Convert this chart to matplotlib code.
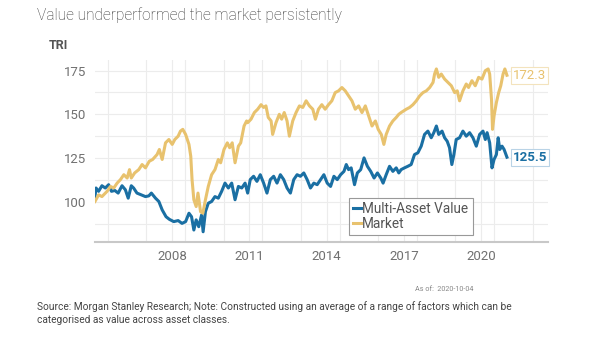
import matplotlib.pyplot as plt
from matplotlib.ticker import MultipleLocator

plt.rcParams['font.family'] = ['Roboto', 'DejaVu Sans']

# decimal years and TRI levels
market_t = [2005.0, 2005.14, 2005.27, 2005.47, 2005.6, 2005.73, 2005.86, 2005.99, 2006.12,
            2006.25, 2006.34, 2006.41, 2006.54, 2006.7, 2006.83, 2006.96, 2007.11, 2007.24,
            2007.41, 2007.5, 2007.61, 2007.74, 2007.87, 2008.0, 2008.1, 2008.23, 2008.32,
            2008.41, 2008.52, 2008.65, 2008.72, 2008.77, 2008.84, 2008.93, 2009.0, 2009.1,
            2009.19, 2009.29, 2009.4, 2009.53, 2009.66, 2009.79, 2009.88, 2010.01, 2010.14,
            2010.23, 2010.33, 2010.44, 2010.57, 2010.66, 2010.79, 2010.89,
            2010.93, 2011.06, 2011.19, 2011.32, 2011.45, 2011.55, 2011.64, 2011.73, 2011.84,
            2011.9, 2012.03, 2012.16, 2012.25, 2012.35, 2012.46, 2012.55, 2012.68, 2012.81,
            2012.94, 2013.07, 2013.2, 2013.33, 2013.46, 2013.56, 2013.68, 2013.81, 2013.94,
            2014.07, 2014.2, 2014.33, 2014.46, 2014.59, 2014.72, 2014.85, 2014.98, 2015.11,
            2015.24, 2015.37, 2015.5, 2015.63, 2015.76, 2015.89, 2016.0, 2016.12, 2016.22,
            2016.31, 2016.44, 2016.57, 2016.7, 2016.8,
            2016.89, 2017.09, 2017.22, 2017.35, 2017.48, 2017.61, 2017.74, 2017.87, 2018.0,
            2018.13, 2018.19, 2018.26, 2018.35, 2018.45, 2018.58, 2018.71, 2018.84, 2018.97,
            2019.07, 2019.16, 2019.29, 2019.42, 2019.51, 2019.64, 2019.77, 2019.9, 2020.03,
            2020.16, 2020.27, 2020.33, 2020.4, 2020.44, 2020.5, 2020.59, 2020.68, 2020.76,
            2020.85, 2020.92, 2021.0]
market_v = [100.2, 104, 103, 106, 108.8, 107.9, 110.7, 112.7, 115.5,
            113.6, 118.4, 113.6, 116.5, 118.4, 121.3, 119.4, 123.2, 124.2,
            127, 129.9, 124.2, 133.7, 135.6, 132.8, 135.6, 137.5, 140.4,
            141.4, 138.5, 132.8, 126, 112.7, 101.2, 97.3, 105, 94.4,
            93.5, 101.2, 108.8, 115.5, 118.4, 124.2, 122.3, 129.9, 133.7,
            130.9, 133.7, 122.3, 131.8, 133.7, 143.3, 146.2,
            145.2, 147.2, 151, 152.9, 155.5, 153.9, 154.8, 148.2, 146.2,
            138.5, 145.2, 150, 147.2, 151, 146.2, 137.5, 146.2, 151,
            154.8, 153.9, 157.7, 154.8, 152.9, 147.2, 152.9, 155.5, 152.9,
            155.5, 157.7, 162.4, 163.4, 165.3, 163.4, 160.5, 157.7, 152.9,
            154.8, 151, 154.8, 149.1, 143.3, 146.2, 141.4, 138.5, 132.8,
            138.5, 143.3, 146.2, 148.2, 150,
            151, 152.9, 153.9, 155.5, 157.7, 160.5, 162.4, 163.4, 165.3,
            168.2, 173, 175.9, 171.1, 173, 170.1, 168.2, 166.3, 162.4,
            163.4, 157.7, 163.4, 167.3, 165.3, 169.2, 166.3, 171.1, 170.1,
            174.9, 175.9, 173, 158.6, 141.4, 149.1, 156.7, 162.4, 166.3,
            173, 175.9, 172.3]

value_t = [2005.0, 2005.04, 2005.14, 2005.27, 2005.4, 2005.53, 2005.64, 2005.77, 2005.9,
           2006.05, 2006.18, 2006.29, 2006.41, 2006.5, 2006.63, 2006.8, 2006.96, 2007.09,
           2007.19, 2007.35, 2007.48, 2007.61, 2007.76, 2007.89, 2008.06, 2008.23, 2008.38,
           2008.52, 2008.65, 2008.75, 2008.84, 2008.93, 2009.03, 2009.14, 2009.2, 2009.29,
           2009.4, 2009.53, 2009.66, 2009.79, 2009.92, 2010.05, 2010.18, 2010.31, 2010.44,
           2010.57, 2010.7, 2010.83,
           2010.93, 2011.03, 2011.16, 2011.29, 2011.42, 2011.55, 2011.68, 2011.81, 2011.94,
           2012.07, 2012.2, 2012.33, 2012.46, 2012.59, 2012.72, 2012.85, 2012.98, 2013.11,
           2013.24, 2013.37, 2013.5, 2013.63, 2013.76, 2013.89, 2014.02, 2014.15, 2014.28,
           2014.41, 2014.54, 2014.67, 2014.76, 2014.85, 2014.95, 2015.08, 2015.19, 2015.32,
           2015.45, 2015.58, 2015.71, 2015.84, 2015.97, 2016.1, 2016.19, 2016.31, 2016.44,
           2016.57, 2016.7, 2016.8,
           2016.89, 2017.02, 2017.15, 2017.28, 2017.41, 2017.54, 2017.67, 2017.8, 2017.93,
           2018.06, 2018.16, 2018.26, 2018.35, 2018.48, 2018.58, 2018.68, 2018.77, 2018.86,
           2018.94, 2019.03, 2019.16, 2019.29, 2019.42, 2019.55, 2019.68, 2019.81, 2019.94,
           2020.07, 2020.16, 2020.23, 2020.33, 2020.42, 2020.5, 2020.59, 2020.66, 2020.72,
           2020.81, 2020.89, 2021.0]
value_v = [103, 107.9, 106, 109.2, 107.9, 109.8, 106, 106.5, 105,
           109.2, 106.9, 102.1, 109.2, 107.9, 105, 104, 103, 103.4,
           105, 102.1, 100.2, 95.4, 91.5, 90, 88.7, 89.3, 87.7,
           88.7, 93.5, 91.5, 83.9, 89.7, 85.8, 92.5, 82.9, 94.4,
           99.2, 100.2, 103, 102.1, 106, 110.7, 107.9, 110.7, 101.2,
           108.8, 107.9, 110.7,
           105, 112.7, 114.6, 111.7, 115.5, 110.7, 105, 112.7, 114.6,
           110.7, 115.5, 112.7, 107.9, 105, 112.7, 115.5, 114.6, 116.5,
           112.7, 107.9, 110.7, 109.8, 112.7, 115.5, 110.7, 108.8, 114.6,
           112.7, 115.5, 117.4, 121.3, 118.4, 119.4, 109.8, 116.5, 118.4,
           125.1, 120.3, 117.4, 113.6, 116.5, 113.6, 110.7, 115.5, 120.3,
           117.4, 119.4, 116.5,
           118.4, 119.4, 120.3, 121.3, 127, 128, 131.8, 138.5, 140.4,
           136.6, 139.5, 143.3, 138.5, 140.4, 136.6, 134.6, 130.9, 121.3,
           127, 135.6, 136.6, 140.4, 137.5, 139.5, 136.6, 131.8, 138.5,
           140.4, 135.6, 139.5, 133.7, 119.4, 124.2, 127, 136.6, 129.9,
           131.8, 129.9, 125.5]

blue = '#1a6fa3'
gold = '#e8c26e'
grid = '#ececec'
txt = '#707070'

fig = plt.figure(figsize=(6.05, 3.41), dpi=100)
ax = fig.add_axes([0.157, 0.290, 0.749, 0.534])
ax.plot(value_t, value_v, color=blue, lw=2.2, label='Multi-Asset Value', zorder=3)
ax.plot(market_t, market_v, color=gold, lw=2.2, label='Market', zorder=3)

ax.set_xlim(2005, 2022.6)
ax.set_ylim(77, 181)
ax.xaxis.set_major_locator(MultipleLocator(3))
ax.xaxis.set_minor_locator(MultipleLocator(1.5))
ax.yaxis.set_major_locator(MultipleLocator(25))
ax.yaxis.set_minor_locator(MultipleLocator(12.5))
ax.set_xticks([2008, 2011, 2014, 2017, 2020])
ax.set_xticklabels(['2008', '2011', '2014', '2017', '2020'])
ax.grid(True, which='both', color=grid, lw=0.8, zorder=0)
ax.tick_params(which='both', length=0, labelsize=9.5, colors=txt, pad=6)
for s in ['top', 'right', 'left']:
    ax.spines[s].set_visible(False)
ax.spines['bottom'].set_color('#c8c8c8')
ax.spines['bottom'].set_linewidth(1.5)

ax.annotate('172.3', xy=(market_t[-1], market_v[-1]), xytext=(4, 0), textcoords='offset points',
            va='center', ha='left', color=gold, fontsize=9.5,
            bbox=dict(boxstyle='square,pad=0.15', fc='white', ec='#f3e3bd', lw=0.8))
ax.annotate('125.5', xy=(value_t[-1], value_v[-1]), xytext=(4, 0), textcoords='offset points',
            va='center', ha='left', color=blue, fontsize=9.5, fontweight='bold',
            bbox=dict(boxstyle='square,pad=0.15', fc='white', ec='#b9d3e6', lw=0.8))

leg = ax.legend(loc='lower left', bbox_to_anchor=(0.545, 0.0), fontsize=9.8, handlelength=0.6,
                handletextpad=0.1, borderpad=0.3, labelspacing=0.1, fancybox=False,
                framealpha=1, edgecolor='#999999')
leg.get_frame().set_linewidth(0.8)
for t in leg.get_texts():
    t.set_color('#555555')

fig.text(0.061, 0.955, 'Value underperformed the market persistently', fontsize=11.2,
         color='#333333', fontweight='light', va='center')
fig.text(0.081, 0.868, 'TRI', fontsize=9, color='#555555', fontweight='bold', va='center')
fig.text(0.782, 0.150, 'As of:  2020-10-04', fontsize=5.2, color='#888888', ha='right', va='center')
fig.text(0.061, 0.082, 'Source: Morgan Stanley Research; Note: Constructed using an average of a range of factors which can be\ncategorised as value across asset classes.',
         fontsize=7.3, color='#444444', va='center', linespacing=1.3)

fig.savefig('out.png', dpi=100)
